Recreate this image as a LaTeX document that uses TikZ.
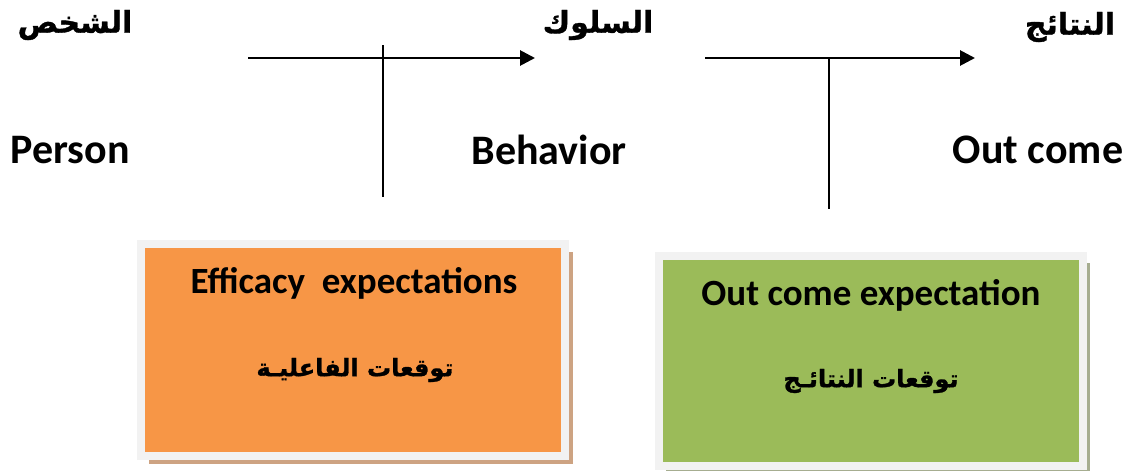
\documentclass[tikz,border=0pt]{standalone}
\usepackage{fontspec}
\setmainfont{Carlito}
\newfontfamily\arabicfont[Script=Arabic,FakeBold=1.2]{DejaVu Sans Bold}
\TeXXeTstate=1
\usetikzlibrary{arrows.meta,shadows}
\definecolor{orangefill}{HTML}{F79646}
\definecolor{greenfill}{HTML}{9BBB59}
\definecolor{framegrey}{HTML}{F2F2F2}
\definecolor{orangeshadow}{HTML}{CDA382}
\definecolor{greenshadow}{HTML}{A6AD90}
\tikzset{
  lbl/.style={font=\fontsize{42}{48}\selectfont\bfseries, inner sep=0pt},
  arlbl/.style={font=\fontsize{30}{36}\selectfont\arabicfont, inner sep=0pt},
  boxtxt/.style={font=\fontsize{37}{42}\selectfont\bfseries, inner sep=0pt},
  arbox/.style={font=\fontsize{24}{29}\selectfont\arabicfont, inner sep=0pt},
  expbox/.style={draw=framegrey, line width=8pt, minimum width=424pt, inner sep=0pt, outer sep=0pt},
  flow/.style={line width=2.8pt, -{Triangle[length=15pt,width=15pt]}},
  tick/.style={line width=1.2pt},
}
\begin{document}
\begin{tikzpicture}[x=1pt,y=-1pt]
\useasboundingbox (0,0) rectangle (1130,471);

% headings
\node[arlbl] (arPerson) at (75,25) {\beginR الشخص\endR};
\node[arlbl] (arBehav) at (598,25) {\beginR السلوك\endR};
\node[arlbl] (arOut) at (1070,27) {\beginR النتائج\endR};
\node[lbl] (person) at (70,150) {Person};
\node[lbl] (behavior) at (549,150) {Behavior};
\node[lbl] (outcome) at (1038,150) {Out come};

% arrows and the lines that cross them
\coordinate (a1s) at (248,58);
\coordinate (a1e) at (535,58);
\coordinate (a2s) at (705,58);
\coordinate (a2e) at (975,58);
\coordinate (v1t) at (383,45);
\coordinate (v1b) at (383,197);
\coordinate (v2t) at (829,58);
\coordinate (v2b) at (829,209);
\draw[flow] (a1s) -- (a1e);
\draw[flow] (a2s) -- (a2e);
\draw[tick] (v1t) -- (v1b);
\draw[tick] (v2t) -- (v2b);

% expectation boxes
\node[expbox, fill=orangefill, minimum height=212pt,
      drop shadow={shadow xshift=7.5pt, shadow yshift=-7.5pt, fill=orangeshadow, opacity=1}]
      (effbox) at (353,350) {};
\node[boxtxt] (effEn) at (354,283) {Efficacy\ \ expectations};
\node[arbox] (effAr) at (355,370) {\beginR توقعات الفاعليـة\endR};

\node[expbox, fill=greenfill, minimum height=210pt,
      drop shadow={shadow xshift=7pt, shadow yshift=-7pt, fill=greenshadow, opacity=1}]
      (outbox) at (871,361) {};
\node[boxtxt] (outEn) at (871,295) {Out come expectation};
\node[arbox] (outAr) at (871,381) {\beginR توقعات النتائـج\endR};
\end{tikzpicture}
\end{document}
